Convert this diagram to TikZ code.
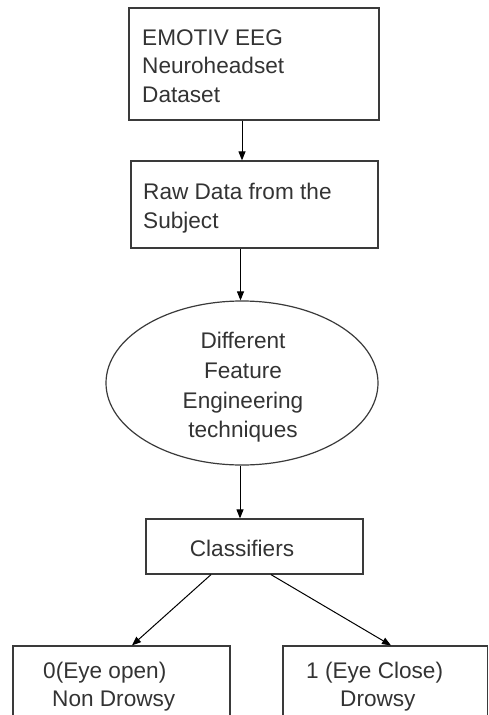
\documentclass[tikz,border=0pt]{standalone}
\usepackage{fontspec}
\setmainfont{Liberation Sans}
\usetikzlibrary{arrows.meta,shapes.geometric}
\definecolor{ink}{HTML}{333333}
\definecolor{edge}{HTML}{3A3A3A}
\begin{document}
\begin{tikzpicture}[x=1pt,y=-1pt,
  box/.style={draw=edge,line width=1.2pt,rectangle,inner sep=0pt},
  oval/.style={draw=edge,line width=1.2pt,ellipse,inner sep=0pt},
  lbl/.style={text=ink,inner sep=0pt,font=\fontsize{22.6}{28.5}\selectfont},
  arr/.style={draw=black,line width=1pt,-{Triangle[length=9pt,width=7pt]}}]
\useasboundingbox (0,0) rectangle (489,715);
\clip (0,0) rectangle (489,715);
% shapes
\node[box,minimum width=250pt,minimum height=112pt] (b1) at (254,64) {};
\node[box,minimum width=247pt,minimum height=87pt] (b2) at (254.5,204.5) {};
\node[oval,minimum width=272pt,minimum height=164pt] (e) at (242,383) {};
\node[box,minimum width=217pt,minimum height=55pt] (cls) at (254.5,546.5) {};
\node[box,minimum width=217pt,minimum height=110pt] (nd) at (121.5,701) {};
\node[box,minimum width=204.5pt,minimum height=110pt] (dr) at (385.25,701) {};
% texts
\node[lbl,anchor=base west] (t1a) at (142,45) {EMOTIV EEG};
\node[lbl,anchor=base west] (t1b) at (142,73.5) {Neuroheadset};
\node[lbl,anchor=base west] (t1c) at (142,102) {Dataset};
\node[lbl,anchor=base west] (t2a) at (143,199) {Raw Data from the};
\node[lbl,anchor=base west] (t2b) at (143,228) {Subject};
\node[lbl,anchor=base] (t3a) at (243,348) {Different};
\node[lbl,anchor=base] (t3b) at (243,378) {Feature};
\node[lbl,anchor=base] (t3c) at (243,408) {Engineering};
\node[lbl,anchor=base] (t3d) at (243,437) {techniques};
\node[lbl,anchor=base] (t4) at (242,556) {Classifiers};
\node[lbl,anchor=base west] (t5a) at (43,678) {0(Eye open)};
\node[lbl,anchor=base west] (t5b) at (52,706) {Non Drowsy};
\node[lbl,anchor=base west] (t6a) at (306,678) {1 (Eye Close)};
\node[lbl,anchor=base west] (t6b) at (340,706) {Drowsy};
% connectors
\draw[arr] (b1.south -| e.north) -- (b2.north -| e.north);
\draw[arr] ([xshift=-1.5pt]b2.south -| e.north) -- ([xshift=-1.5pt]e.north);
\draw[arr] ([xshift=-2pt]e.south) -- ([xshift=-2pt]cls.north -| e.south);
\draw[arr] ([xshift=-43.5pt]cls.south) -- ([xshift=10.5pt]nd.north);
\draw[arr] ([xshift=16.5pt]cls.south) -- ([xshift=5.75pt]dr.north);
\end{tikzpicture}
\end{document}
